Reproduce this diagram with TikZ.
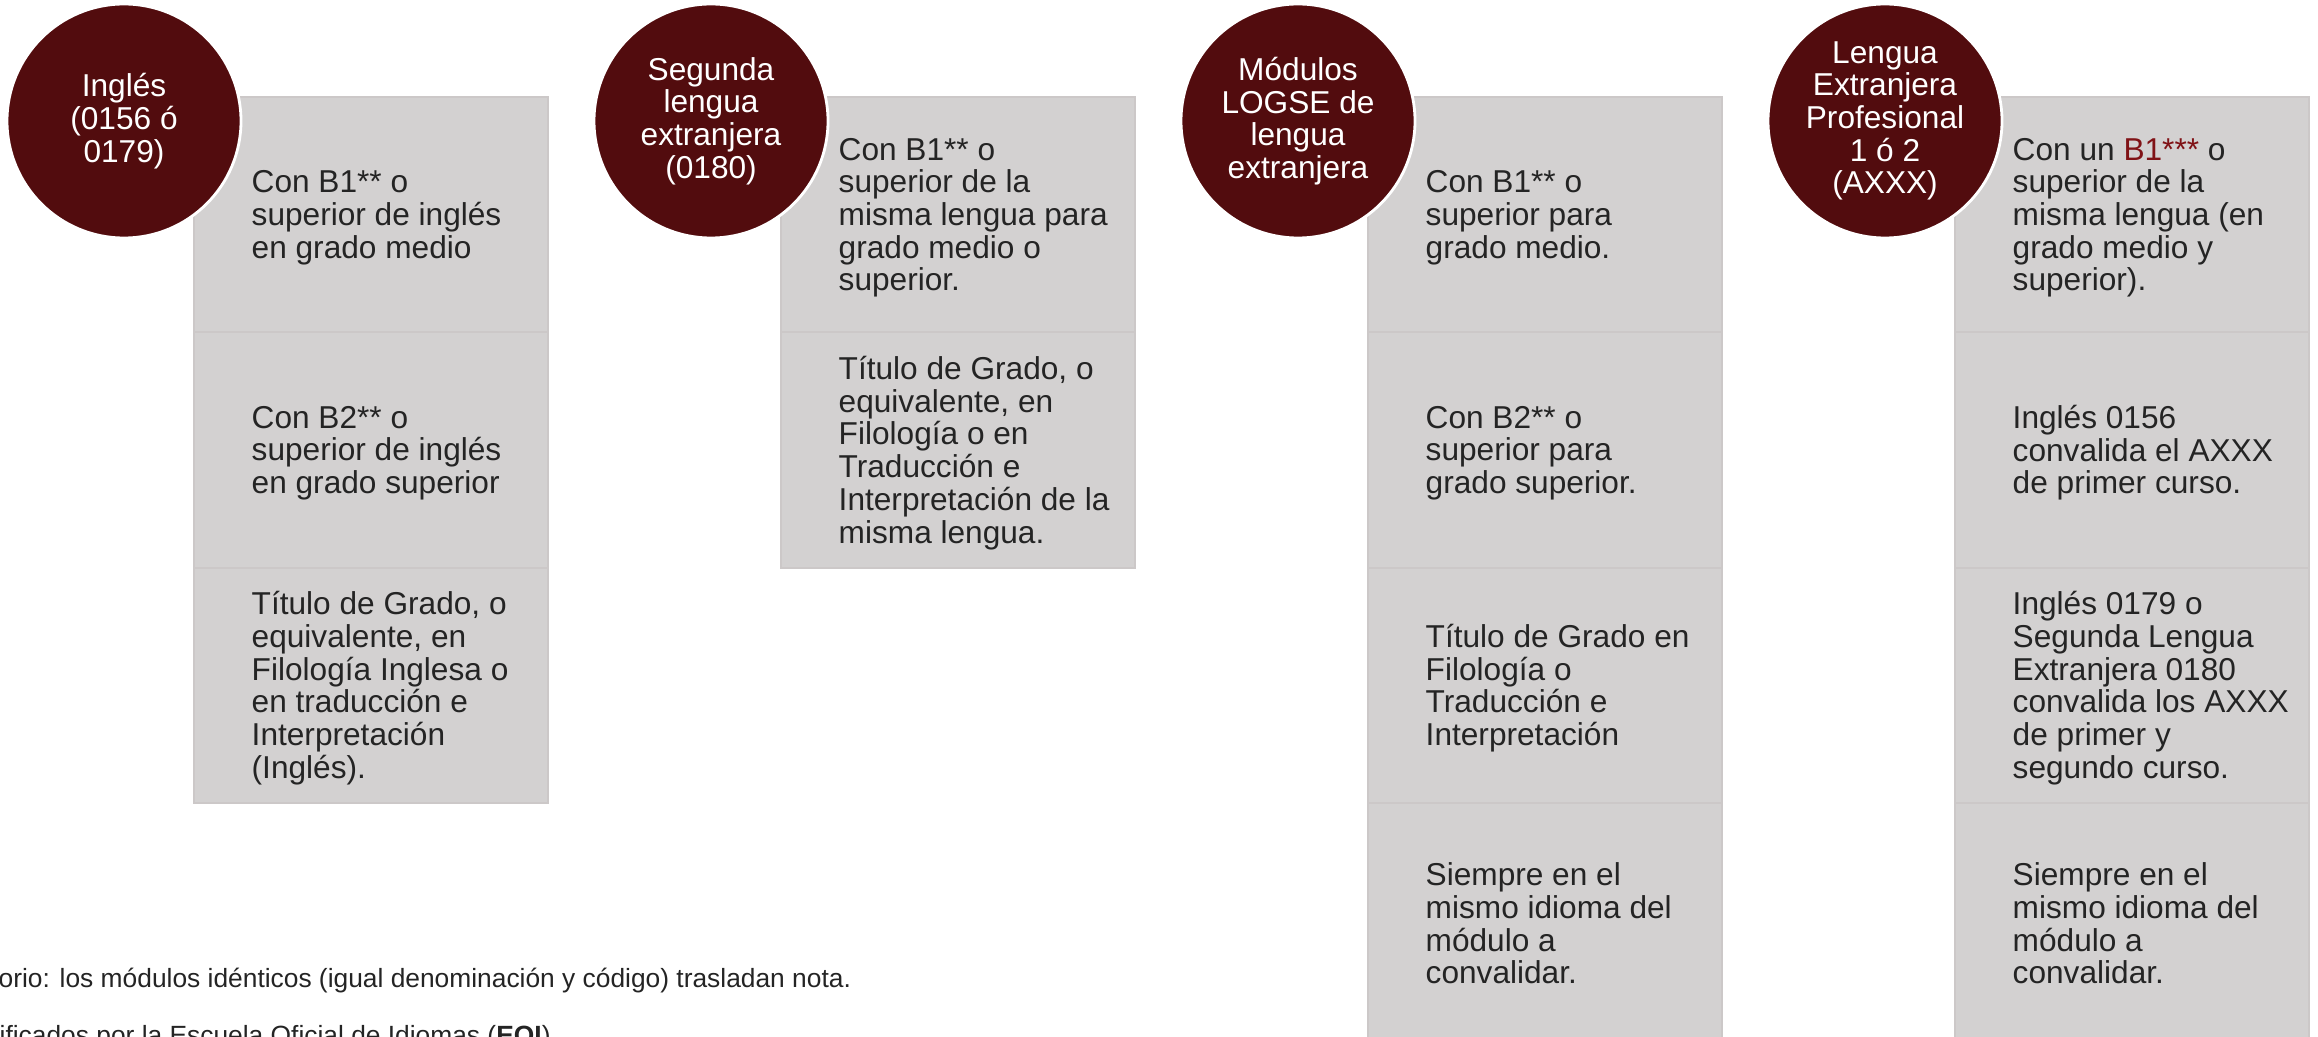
\documentclass[tikz,border=0pt]{standalone}
\usepackage{fontspec}
\setmainfont{Liberation Sans}
\usetikzlibrary{positioning}
\definecolor{circred}{RGB}{82,12,14}
\definecolor{accent}{RGB}{128,18,22}
\definecolor{segfill}{RGB}{211,209,209}
\definecolor{segline}{RGB}{204,200,200}
\definecolor{txtcol}{RGB}{36,36,36}

\begin{document}
\begin{tikzpicture}[node distance = 0pt]
 \tikzstyle{seg} = [fill=segfill, draw=segline, line width=0.6pt, rectangle, minimum width=3.54cm, minimum height=2.353cm, inner sep=0pt, outer sep=0pt]
 \tikzstyle{txt} = [align=left, inner sep=0pt, text=txtcol, yshift=-0.03cm, font=\fontsize{9}{9.3}\selectfont]
 \tikzstyle{circ} = [circle, fill=circred, draw=white, line width=0.8pt, minimum size=2.34cm, inner sep=0pt, align=center, text=white, font=\fontsize{9}{9.3}\selectfont]
 \tikzstyle{note} = [anchor=base west, inner sep=0pt, text=txtcol, font=\fontsize{7.5}{9}\selectfont]

 \useasboundingbox (0,0) rectangle (23.18,-10.37);
 \clip (0,0) rectangle (23.18,-10.37);

 \node [seg, anchor=north west] (I1) at (1.94,-0.97) {};
 \node [seg, below = of I1] (I2) {};
 \node [seg, below = of I2] (I3) {};
 \node [seg, right = 2.33cm of I1] (S1) {};
 \node [seg, below = of S1] (S2) {};
 \node [seg, right = 2.33cm of S1] (M1) {};
 \node [seg, below = of M1] (M2) {};
 \node [seg, below = of M2] (M3) {};
 \node [seg, below = of M3] (M4) {};
 \node [seg, right = 2.33cm of M1] (L1) {};
 \node [seg, below = of L1] (L2) {};
 \node [seg, below = of L2] (L3) {};
 \node [seg, below = of L3] (L4) {};

 \node [txt, right = 0.57cm of I1.west] (tI1) {Con B1** o\\superior de inglés\\en grado medio};
 \node [txt, right = 0.57cm of I2.west] (tI2) {Con B2** o\\superior de inglés\\en grado superior};
 \node [txt, right = 0.57cm of I3.west] (tI3) {Título de Grado, o\\equivalente, en\\Filología Inglesa o\\en traducción e\\Interpretación\\(Inglés).};
 \node [txt, right = 0.57cm of S1.west] (tS1) {Con B1** o\\superior de la\\misma lengua para\\grado medio o\\superior.};
 \node [txt, right = 0.57cm of S2.west] (tS2) {Título de Grado, o\\equivalente, en\\Filología o en\\Traducción e\\Interpretación de la\\misma lengua.};
 \node [txt, right = 0.57cm of M1.west] (tM1) {Con B1** o\\superior para\\grado medio.};
 \node [txt, right = 0.57cm of M2.west] (tM2) {Con B2** o\\superior para\\grado superior.};
 \node [txt, right = 0.57cm of M3.west] (tM3) {Título de Grado en\\Filología o\\Traducción e\\Interpretación};
 \node [txt, right = 0.57cm of M4.west] (tM4) {Siempre en el\\mismo idioma del\\módulo a\\convalidar.};
 \node [txt, right = 0.57cm of L1.west] (tL1) {Con un {\color{accent}B1***} o\\superior de la\\misma lengua (en\\grado medio y\\superior).};
 \node [txt, right = 0.57cm of L2.west] (tL2) {Inglés 0156\\convalida el AXXX\\de primer curso.};
 \node [txt, right = 0.57cm of L3.west] (tL3) {Inglés 0179 o\\Segunda Lengua\\Extranjera 0180\\convalida los AXXX\\de primer y\\segundo curso.};
 \node [txt, right = 0.57cm of L4.west] (tL4) {Siempre en el\\mismo idioma del\\módulo a\\convalidar.};

 \node [circ] (cI) at ([shift={(-0.70,-0.24)}]I1.north west) {Inglés\\(0156 ó\\0179)};
 \node [circ] (cS) at ([shift={(-0.70,-0.24)}]S1.north west) {Segunda\\lengua\\extranjera\\(0180)};
 \node [circ] (cM) at ([shift={(-0.70,-0.24)}]M1.north west) {Módulos\\LOGSE de\\lengua\\extranjera};
 \node [circ] (cL) at ([shift={(-0.70,-0.24)}]L1.north west) {Lengua\\Extranjera\\Profesional\\1 ó 2\\(AXXX)};

 \node [note] (n1) at (-0.02,-9.87) {orio: los módulos idénticos (igual denominación y código) trasladan nota.};
 \node [note] (n2) at (-0.01,-10.44) {ificados por la Escuela Oficial de Idiomas (\textbf{EOI})};
\end{tikzpicture}
\end{document}
